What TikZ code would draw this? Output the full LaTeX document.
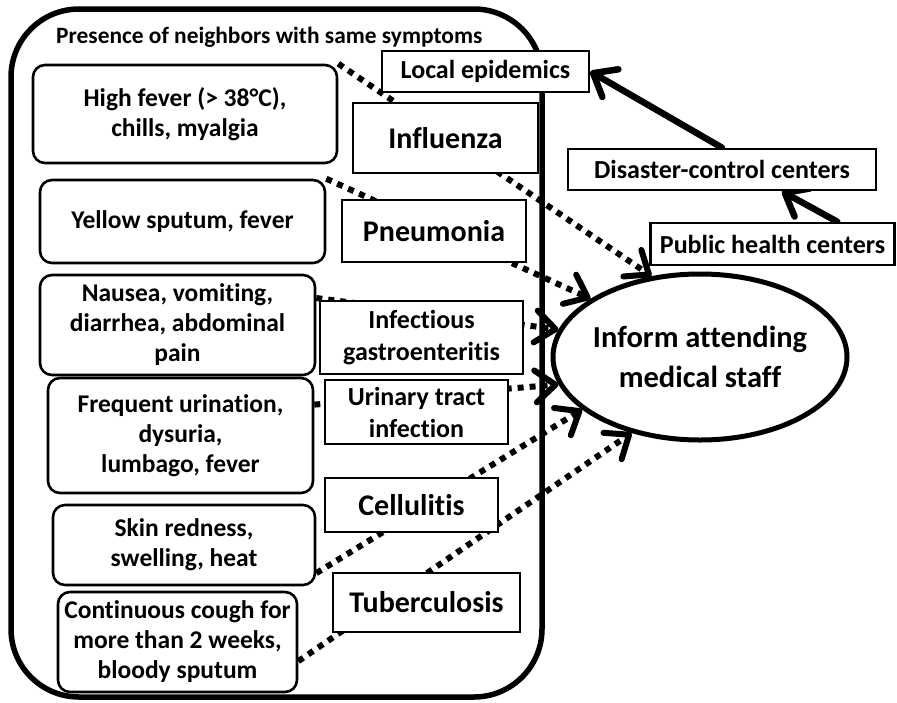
\documentclass[tikz,border=0pt]{standalone}
\usepackage{fontspec}
\setmainfont{Carlito}[Ligatures={NoCommon,NoRare}]
\usetikzlibrary{arrows.meta,shapes.geometric}
\pgfdeclarelayer{frame}
\pgfdeclarelayer{links}
\pgfsetlayers{frame,links,main}

\begin{document}
\begin{tikzpicture}[x=1pt, y=-1pt, >={Straight Barb[length=20pt,width=32pt,round]},
  symbox/.style={draw, line width=2.6pt, rounded corners=12pt, fill=white, align=center, inner sep=0pt, font=\fontsize{25.5}{30}\selectfont\bfseries},
  disbox/.style={draw, line width=2.6pt, fill=white, align=center, inner sep=0pt, font=\fontsize{30}{34}\selectfont\bfseries},
  smallbox/.style={disbox, font=\fontsize{26}{32}\selectfont\bfseries},
  dotlink/.style={->, line width=6pt, dash pattern=on 6pt off 6pt},
  solidlink/.style={->, line width=6.5pt, line cap=round}]
  \useasboundingbox (0,0) rectangle (897,702);

  % 1. outer frame
  \begin{pgfonlayer}{frame}
    \draw[line width=5.5pt, rounded corners=68pt] (11,9) rectangle (542,697);
  \end{pgfonlayer}
  \node[anchor=base west, inner sep=0pt, font=\fontsize{23.4}{28}\selectfont\bfseries] (title) at (56,43) {Presence of neighbors with same symptoms};

  % 2. symptoms
  \node[symbox, minimum width=304pt, minimum height=98pt] (hf) at (185,114) {High fever (> 38°C),\\chills, myalgia};
  \node[symbox, minimum width=285pt, minimum height=83pt] (ys) at (182.5,221.5) {Yellow sputum, fever};
  \node[symbox, minimum width=275pt, minimum height=100pt] (nv) at (177.5,325) {Nausea, vomiting,\\diarrhea, abdominal\\pain};
  \node[symbox, minimum width=265pt, minimum height=115pt] (fu) at (180.5,435.5) {Frequent urination,\\dysuria,\\lumbago, fever};
  \node[symbox, minimum width=262pt, minimum height=80pt] (sk) at (184,545) {Skin redness,\\swelling, heat};
  \node[symbox, minimum width=239pt, minimum height=100pt] (cc) at (177.5,642) {Continuous cough for\\more than 2 weeks,\\bloody sputum};

  % 3. diseases
  \node[disbox, minimum width=185pt, minimum height=70pt] (inf) at (445.5,138) {Influenza};
  \node[disbox, minimum width=184pt, minimum height=62pt] (pn) at (434,231) {Pneumonia};
  \node[smallbox, minimum width=203pt, minimum height=73pt] (ig) at (421.5,337.5) {Infectious\\gastroenteritis};
  \node[smallbox, minimum width=183pt, minimum height=64pt] (ut) at (416.5,412) {Urinary tract\\infection};
  \node[disbox, minimum width=173pt, minimum height=54pt] (cel) at (411.5,505) {Cellulitis};
  \node[disbox, minimum width=187pt, minimum height=59pt] (tb) at (426.5,602.5) {Tuberculosis};

  % 4. reporting
  \node[smallbox, minimum width=207pt, minimum height=41pt] (le) at (485.5,71.5) {Local epidemics};
  \node[smallbox, minimum width=308pt, minimum height=41pt] (dc) at (722,169.5) {Disaster-control centers};
  \node[smallbox, minimum width=244pt, minimum height=42pt] (ph) at (772.5,244) {Public health centers};
  \node[ellipse, draw, line width=5pt, fill=white, inner sep=-8pt, minimum width=294pt, minimum height=166pt, align=center, font=\fontsize{30.5}{40}\selectfont\bfseries] (staff) at (700,357) {Inform attending\\medical staff};

  % 5. links
  \begin{pgfonlayer}{links}
    \draw[dotlink] (hf.north east) -- (staff.121);
    \draw[dotlink] (ys.north east) -- (staff.152);
    \draw[dotlink] (nv.11) -- (staff.169);
    \draw[dotlink] (fu.13) -- (staff.191);
    \draw[dotlink] (sk.-12) -- (staff.204);
    \draw[dotlink] (cc.-9) -- (staff.228);
    \draw[solidlink] (dc.north) -- (le.east);
    \draw[solidlink] (ph.19) -- (dc.-20);
  \end{pgfonlayer}
\end{tikzpicture}
\end{document}
